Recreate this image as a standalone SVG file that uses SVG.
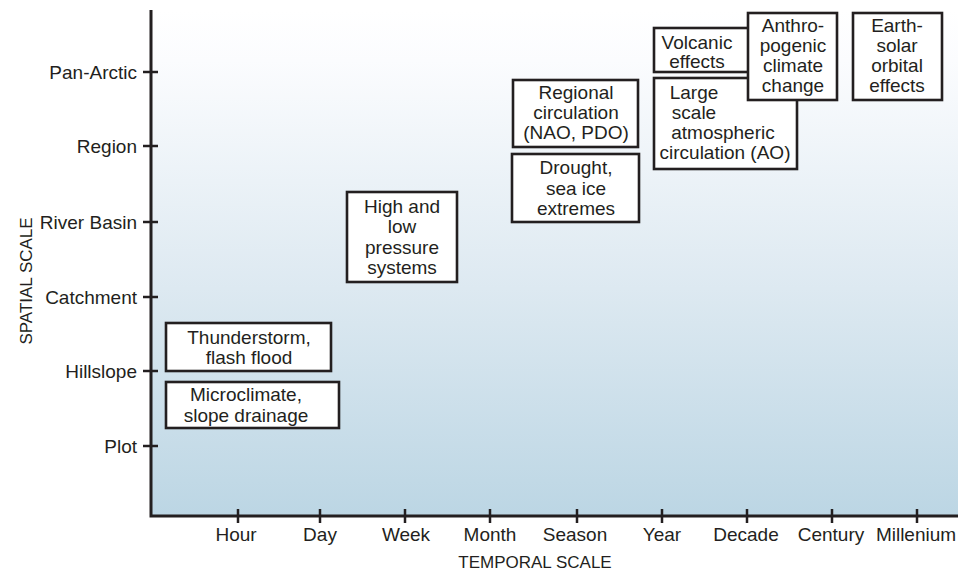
<svg xmlns="http://www.w3.org/2000/svg" width="974" height="573" viewBox="0 0 974 573">
<defs>
<linearGradient id="bg" x1="0" y1="0" x2="0" y2="1">
<stop offset="0" stop-color="#ffffff"/>
<stop offset="0.1" stop-color="#fbfcfe"/>
<stop offset="0.55" stop-color="#dde9f1"/>
<stop offset="1" stop-color="#bcd6e4"/>
</linearGradient>
<style>
text{font-family:"Liberation Sans",Arial,sans-serif;fill:#231f20}
.lbl{font-size:19px}
.yl{text-anchor:end}
.xl{text-anchor:middle}
.ttl{font-size:17px;text-anchor:middle}
.box rect{fill:#fff;stroke:#231f20;stroke-width:2.6}
.box text{font-size:19px;text-anchor:middle}
.axis{stroke:#231f20;stroke-width:3;fill:none}
.tick{stroke:#231f20;stroke-width:2.5}
</style>
</defs>
<rect x="151" y="10" width="807" height="506" fill="url(#bg)"/>
<g id="axes">
<path class="axis" d="M151,10 V516 H958"/>
<g class="tick">
<line x1="143" y1="72" x2="158" y2="72"/>
<line x1="143" y1="146" x2="158" y2="146"/>
<line x1="143" y1="222" x2="158" y2="222"/>
<line x1="143" y1="297" x2="158" y2="297"/>
<line x1="143" y1="371" x2="158" y2="371"/>
<line x1="143" y1="446" x2="158" y2="446"/>
<line x1="238" y1="509" x2="238" y2="523"/>
<line x1="320" y1="509" x2="320" y2="523"/>
<line x1="405" y1="509" x2="405" y2="523"/>
<line x1="490" y1="509" x2="490" y2="523"/>
<line x1="577" y1="509" x2="577" y2="523"/>
<line x1="662" y1="509" x2="662" y2="523"/>
<line x1="747" y1="509" x2="747" y2="523"/>
<line x1="832" y1="509" x2="832" y2="523"/>
<line x1="917" y1="509" x2="917" y2="523"/>
</g>
<g class="lbl yl">
<text x="137" y="79">Pan-Arctic</text>
<text x="137" y="153">Region</text>
<text x="137" y="229">River Basin</text>
<text x="137" y="304">Catchment</text>
<text x="137" y="378">Hillslope</text>
<text x="137" y="453">Plot</text>
</g>
<g class="lbl xl">
<text x="236" y="541">Hour</text>
<text x="320" y="541">Day</text>
<text x="406" y="541">Week</text>
<text x="490" y="541">Month</text>
<text x="575" y="541">Season</text>
<text x="662" y="541">Year</text>
<text x="746" y="541">Decade</text>
<text x="831" y="541">Century</text>
<text x="916" y="541">Millenium</text>
</g>
<text class="ttl" x="535" y="568">TEMPORAL SCALE</text>
<text class="ttl" transform="translate(32,281) rotate(-90)">SPATIAL SCALE</text>
</g>
<g id="thunderstorm" class="box">
<rect x="166" y="323" width="165" height="48"/>
<text x="249" y="344">Thunderstorm,</text>
<text x="249" y="364">flash flood</text>
</g>
<g id="microclimate" class="box">
<rect x="166" y="382" width="173" height="46"/>
<text x="246" y="401">Microclimate,</text>
<text x="246" y="422">slope drainage</text>
</g>
<g id="highlow" class="box">
<rect x="347" y="192" width="110" height="90"/>
<text x="402" y="213">High and</text>
<text x="402" y="233">low</text>
<text x="402" y="254">pressure</text>
<text x="402" y="274">systems</text>
</g>
<g id="regional" class="box">
<rect x="513" y="80" width="125" height="67"/>
<text x="576" y="99">Regional</text>
<text x="576" y="119">circulation</text>
<text x="576" y="139">(NAO, PDO)</text>
</g>
<g id="drought" class="box">
<rect x="512" y="154" width="127" height="68"/>
<text x="576" y="174">Drought,</text>
<text x="576" y="195">sea ice</text>
<text x="576" y="215">extremes</text>
</g>
<g id="volcanic" class="box">
<rect x="654" y="28" width="100" height="44"/>
<text x="697" y="49">Volcanic</text>
<text x="697" y="68">effects</text>
</g>
<g id="largescale" class="box">
<rect x="654" y="78" width="143" height="91"/>
<text x="694" y="99">Large</text>
<text x="694" y="119">scale</text>
<text x="723" y="139">atmospheric</text>
<text x="725" y="159">circulation (AO)</text>
</g>
<g id="anthropogenic" class="box">
<rect x="748" y="13" width="89" height="87"/>
<text x="793" y="32">Anthro-</text>
<text x="793" y="52">pogenic</text>
<text x="793" y="72">climate</text>
<text x="793" y="92">change</text>
</g>
<g id="earthsolar" class="box">
<rect x="853" y="13" width="89" height="87"/>
<text x="897" y="32">Earth-</text>
<text x="897" y="52">solar</text>
<text x="897" y="72">orbital</text>
<text x="897" y="92">effects</text>
</g>
</svg>
